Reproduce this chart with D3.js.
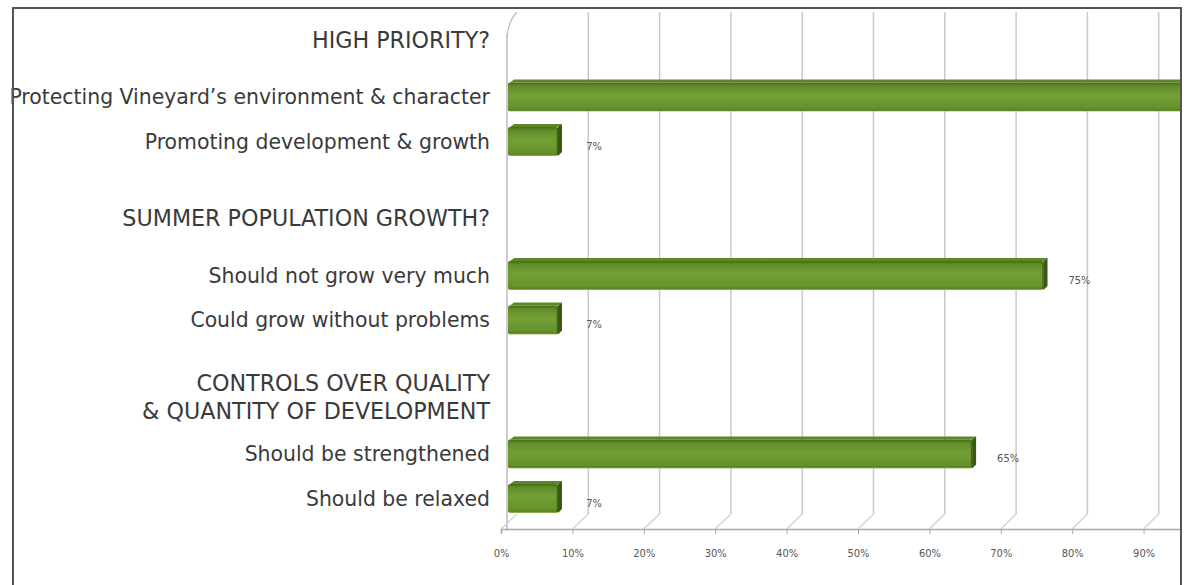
<!DOCTYPE html>
<html>
<head>
<meta charset="utf-8">
<script src="https://cdn.jsdelivr.net/npm/d3@7"></script>
<style>
  html, body { margin: 0; padding: 0; background: #fff; }
  svg { display: block; }
</style>
</head>
<body>
<svg id="chart" width="1184" height="585"></svg>
<script>
// ---- data ----
const groups = ["g1", "g2", "g3"];
const groupTitles = [
  ["HIGH PRIORITY?"],
  ["SUMMER POPULATION GROWTH?"],
  ["CONTROLS OVER QUALITY", "& QUANTITY OF DEVELOPMENT"]
];
const barLabels = [
  ["Protecting Vineyard\u2019s environment & character", "Promoting development & growth"],
  ["Should not grow very much", "Could grow without problems"],
  ["Should be strengthened", "Should be relaxed"]
];
const barValues = [
  [96, 7],
  [75, 7],
  [65, 7]
];
const tickValues = [0, 10, 20, 30, 40, 50, 60, 70, 80, 90];
const tickLabels = ["0%", "10%", "20%", "30%", "40%", "50%", "60%", "70%", "80%", "90%"];

// ---- layout ----
const W = 1184, H = 585;
const svg = d3.select("#chart");
const clipRight = 1180;
const floorFrontY = 529, floorBackY = 514, wallTop = 12;

const xBar = d3.scaleLinear().domain([0, 100]).range([508, 1222]);
const xFront = d3.scaleLinear().domain([0, 100]).range([501, 1215]);
const xBack = d3.scaleLinear().domain([0, 100]).range([517, 1230]);

const yGroup = d3.scaleBand().domain(groups).range([74.75, 74.75 + 3 * 178.5]);
const yInner = d3.scaleBand().domain([0, 1]).range([0, 89]);
const barH = 29;
const depth = 4;

const defs = svg.append("defs");
defs.append("clipPath").attr("id", "clip")
  .append("rect").attr("x", 0).attr("y", 0).attr("width", clipRight).attr("height", H);

const grad = defs.append("linearGradient").attr("id", "barGrad")
  .attr("x1", 0).attr("y1", 0).attr("x2", 0).attr("y2", 1);
[["0%", "#46691a"], ["12%", "#628d29"], ["45%", "#73a036"], ["85%", "#67922c"], ["96%", "#5a8425"], ["100%", "#a9c46b"]]
  .forEach(([o, c]) => grad.append("stop").attr("offset", o).attr("stop-color", c));

const g = svg.append("g").attr("clip-path", "url(#clip)");

// back-wall gridlines and floor lines
tickValues.forEach(v => {
  if (v === 0) return;
  g.append("line")
    .attr("x1", xBack(v)).attr("x2", xBack(v))
    .attr("y1", wallTop).attr("y2", floorBackY)
    .attr("stroke", "#c9c9c9").attr("stroke-width", 1.5);
  g.append("line")
    .attr("x1", xBack(v)).attr("y1", floorBackY)
    .attr("x2", xFront(v)).attr("y2", floorFrontY)
    .attr("stroke", "#cfcfcf").attr("stroke-width", 1.2);
});
// left wall
g.append("line").attr("x1", xBar(0) - 1).attr("x2", xBar(0) - 1)
  .attr("y1", 34).attr("y2", floorFrontY)
  .attr("stroke", "#bdbdbd").attr("stroke-width", 1.5);
g.append("path").attr("d", `M${xBar(0) - 1},36 Q${xBar(0) + 1},20 ${xBack(0)},${wallTop}`)
  .attr("fill", "none").attr("stroke", "#bdbdbd").attr("stroke-width", 1.2);
g.append("line").attr("x1", xFront(0)).attr("y1", floorFrontY)
  .attr("x2", xBack(0)).attr("y2", floorBackY)
  .attr("stroke", "#cfcfcf").attr("stroke-width", 1.2);

// axis
const axis = d3.axisBottom(xFront)
  .tickValues(tickValues)
  .tickFormat((d, i) => tickLabels[i])
  .tickSize(5)
  .tickPadding(15);
const ax = g.append("g").attr("transform", `translate(0,${floorFrontY})`).call(axis);
ax.select(".domain").attr("stroke", "#a8a8a8").attr("stroke-width", 1.5);
ax.selectAll(".tick line").attr("stroke", "#a8a8a8");
ax.selectAll(".tick text")
  .attr("fill", "#555")
  .style("font-family", "'Liberation Sans Narrow', 'DejaVu Sans Condensed', sans-serif")
  .style("font-size", "11px");

// bars
const flat = [];
groups.forEach((gk, gi) => {
  barValues[gi].forEach((v, bi) => {
    flat.push({ gi, bi, v, label: barLabels[gi][bi], cy: yGroup(gk) + yInner(bi) + yInner.bandwidth() / 2 });
  });
});

flat.forEach(d => {
  const x0 = xBar(0), x1 = xBar(d.v);
  const top = d.cy - barH / 2, bot = d.cy + barH / 2;
  g.append("path")
    .attr("d", `M${x0 + 2},${top} L${x0 + 2 + depth},${top - depth + 1} L${x1 + depth},${top - depth + 1} L${x1},${top} Z`)
    .attr("fill", "#5f8727");
  g.append("rect")
    .attr("x", x0).attr("y", top).attr("width", x1 - x0).attr("height", barH)
    .attr("rx", 2)
    .attr("fill", "url(#barGrad)");
  g.append("path")
    .attr("d", `M${x1},${top} L${x1 + depth},${top - depth + 1} L${x1 + depth},${bot - depth} L${x1},${bot} Z`)
    .attr("fill", "#3a5812");
  g.append("line")
    .attr("x1", x1 - 0.5).attr("x2", x1 - 0.5).attr("y1", top + 1).attr("y2", bot - 1)
    .attr("stroke", "#45661a").attr("stroke-width", 1.5);
  const lx = x1 + 36;
  if (lx < clipRight - 10) {
    g.append("text")
      .attr("x", lx).attr("y", d.cy + 5)
      .attr("text-anchor", "middle").attr("dominant-baseline", "middle")
      .attr("fill", "#555")
      .style("font-family", "'Liberation Sans Narrow', 'DejaVu Sans Condensed', sans-serif")
      .style("font-size", "11px")
      .text(d.v + "%");
  }
});

// category labels
const labelFont = "'DejaVu Sans', sans-serif";
const labelX = 490;
const lg = svg.append("g")
  .attr("fill", "#3a3a3a")
  .style("font-family", labelFont)
  .style("font-size", "18px");
const hg = svg.append("g")
  .attr("fill", "#3a3a3a")
  .style("font-family", labelFont)
  .style("font-size", "18px");

const catTexts = lg.selectAll("text.cat").data(flat).join("text")
  .attr("class", "cat")
  .attr("x", labelX).attr("y", d => d.cy)
  .attr("text-anchor", "end").attr("dominant-baseline", "central")
  .text(d => d.label);

let summerNode = null;
groups.forEach((gk, gi) => {
  const lines = groupTitles[gi];
  const center = yGroup(gk) + yInner(0) + yInner.bandwidth() / 2 - 57.5;
  const lh = 28;
  lines.forEach((t, li) => {
    const tn = hg.append("text").attr("class", "hdr")
      .attr("x", labelX)
      .attr("y", center + (li - (lines.length - 1) / 2) * lh)
      .attr("text-anchor", "end").attr("dominant-baseline", "central")
      .text(t);
    if (gi === 1) summerNode = tn.node();
  });
});

const longest = d3.max(catTexts.nodes(), n => n.getComputedTextLength());
lg.style("font-size", (18 * 481 / longest) + "px");
const hw = summerNode.getComputedTextLength();
hg.style("font-size", (18 * 368 / hw) + "px");

// frame
svg.append("path")
  .attr("d", `M13,${H + 5} V8 H1181 V${H + 5}`)
  .attr("fill", "none").attr("stroke", "#555").attr("stroke-width", 2);
</script>
</body>
</html>
